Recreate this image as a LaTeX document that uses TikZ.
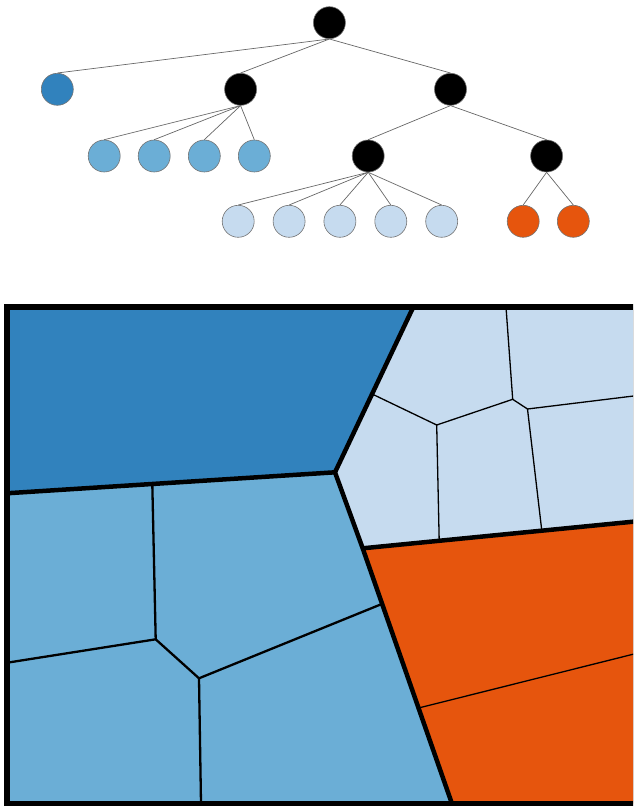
\documentclass[tikz,border=0pt]{standalone}
\definecolor{dblue}{HTML}{3182BD}
\definecolor{mblue}{HTML}{6BAED6}
\definecolor{lblue}{HTML}{C6DBEF}
\definecolor{orng}{HTML}{E6550D}
\begin{document}
\begin{tikzpicture}[x=1pt,y=-1pt,
  tn/.style={circle, minimum size=32pt, inner sep=0pt, draw=black!55, line width=0.6pt},
  te/.style={draw=black!60, line width=0.7pt},
  thinb/.style={draw=black, line width=1.3pt},
  midb/.style={draw=black, line width=2.3pt},
  thickb/.style={draw=black, line width=4.5pt, line join=miter},
  frm/.style={draw=black, line width=6pt}]
\useasboundingbox (0,0) rectangle (633,806);
% tree
\node[tn, fill=black] (r) at (329.4,22.7) {};
\node[tn, fill=dblue] (a) at (57.3,89.3) {};
\node[tn, fill=black] (b) at (240.6,89.3) {};
\node[tn, fill=black] (c) at (450.5,89.3) {};
\node[tn, fill=mblue] (b1) at (104.2,156) {};
\node[tn, fill=mblue] (b2) at (154.2,156) {};
\node[tn, fill=mblue] (b3) at (204.3,156) {};
\node[tn, fill=mblue] (b4) at (254.3,156) {};
\node[tn, fill=black] (c1) at (368.2,156) {};
\node[tn, fill=black] (c2) at (546.6,156) {};
\node[tn, fill=lblue] (d1) at (238.2,221.3) {};
\node[tn, fill=lblue] (d2) at (289.1,221.3) {};
\node[tn, fill=lblue] (d3) at (339.9,221.3) {};
\node[tn, fill=lblue] (d4) at (390.8,221.3) {};
\node[tn, fill=lblue] (d5) at (441.7,221.3) {};
\node[tn, fill=orng] (e1) at (523.2,221.3) {};
\node[tn, fill=orng] (e2) at (573.3,221.3) {};
\foreach \c in {a,b,c} \draw[te] (r.south) -- (\c.north);
\foreach \c in {b1,b2,b3,b4} \draw[te] (b.south) -- (\c.north);
\foreach \c in {c1,c2} \draw[te] (c.south) -- (\c.north);
\foreach \c in {d1,d2,d3,d4,d5} \draw[te] (c1.south) -- (\c.north);
\foreach \c in {e1,e2} \draw[te] (c2.south) -- (\c.north);
% map
\begin{scope}
\clip (0,0) rectangle (633,806);
\coordinate (TL) at (6.5,307);
\coordinate (TR) at (636,307);
\coordinate (BR) at (636,803.5);
\coordinate (BL) at (6.5,803.5);
\coordinate (P1) at (413.3,307);
\coordinate (A) at (335,472.3);
\coordinate (L1) at (6.5,493.3);
\coordinate (B) at (362.7,548.3);
\coordinate (R1) at (636,521.4);
\coordinate (Bot1) at (451.9,803.5);
\coordinate (C) at (372.1,394);
\coordinate (D) at (436.7,425);
\coordinate (E) at (512.7,399.3);
\coordinate (Et) at (506,307);
\coordinate (F) at (527.5,409);
\coordinate (Fr) at (636,395.7);
\coordinate (Fd) at (541.8,530.7);
\coordinate (Dd) at (439.2,540.8);
\coordinate (M1) at (152.3,484);
\coordinate (G) at (155.7,639.3);
\coordinate (Gl) at (6.5,662.8);
\coordinate (H) at (199,678.3);
\coordinate (I) at (381.8,604);
\coordinate (Hb) at (201,803.5);
\coordinate (O1) at (418.5,708);
\coordinate (O2) at (636,653.5);
\fill[dblue] (TL) -- (P1) -- (A) -- (L1) -- cycle;
\fill[lblue] (P1) -- (TR) -- (R1) -- (B) -- (A) -- cycle;
\fill[orng] (B) -- (R1) -- (BR) -- (Bot1) -- cycle;
\fill[mblue] (L1) -- (A) -- (B) -- (Bot1) -- (BL) -- cycle;
\draw[thinb] (C) -- (D) -- (E) -- (Et);
\draw[thinb] (E) -- (F) -- (Fr);
\draw[thinb] (F) -- (Fd);
\draw[thinb] (D) -- (Dd);
\draw[thinb] (O1) -- (O2);
\draw[midb] (M1) -- (G) -- (Gl);
\draw[midb] (G) -- (H) -- (I);
\draw[midb] (H) -- (Hb);
\draw[thickb] (P1) -- (A) -- (B) -- (Bot1);
\draw[thickb] (A) -- (L1);
\draw[thickb] (B) -- (R1);
\draw[frm] (TL) rectangle (BR);
\end{scope}
\end{tikzpicture}
\end{document}
